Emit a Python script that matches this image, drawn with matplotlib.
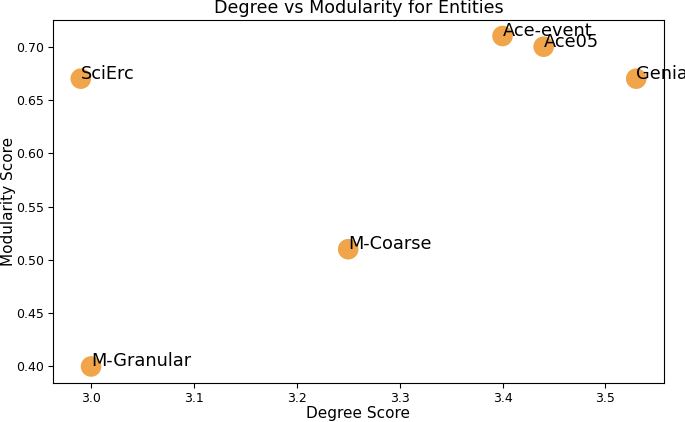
import matplotlib
matplotlib.use("Agg")
import matplotlib.pyplot as plt

names = ["SciErc", "M-Granular", "M-Coarse", "Ace-event", "Ace05", "Genia"]
degree = [2.99, 3.00, 3.25, 3.40, 3.44, 3.53]
modularity = [0.67, 0.40, 0.51, 0.71, 0.70, 0.67]

fig = plt.figure(figsize=(6.85, 4.22), dpi=100)
ax = fig.add_axes([53/685, 1 - 383/422, (664 - 53)/685, (383 - 19.5)/422])
ax.scatter(degree, modularity, s=220, color="#f0a040", alpha=0.95, edgecolors="none")
for n, x, y in zip(names, degree, modularity):
    ax.text(x, y, n, fontsize=12.8)
ax.set_title("Degree vs Modularity for Entities", fontsize=12.6, pad=5)
ax.set_xlabel("Degree Score", fontsize=11, labelpad=1)
ax.set_ylabel("Modularity Score", fontsize=11, labelpad=0)
ax.tick_params(labelsize=9, pad=3)
fig.savefig("out.png", dpi=100)
